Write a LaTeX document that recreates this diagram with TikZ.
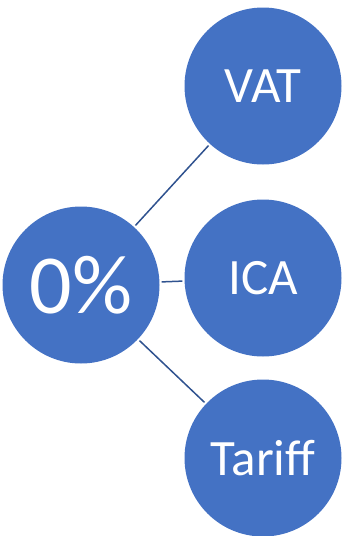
\documentclass[tikz,border=0pt]{standalone}
\usepackage{fontspec}
\setmainfont{Carlito}
\usepackage{tikz}

\definecolor{bubbleblue}{HTML}{4472C4}
\definecolor{linkblue}{HTML}{2F528F}

\begin{document}
\begin{tikzpicture}[x=1pt,y=-1pt,
	bubble/.style={circle,fill=bubbleblue,text=white,inner sep=0pt,minimum size=157pt,font=\fontsize{51}{51}\selectfont},
	link/.style={draw=linkblue,line width=1.5pt,shorten <=2pt,shorten >=2pt}]
	\useasboundingbox (0,0) rectangle (346,536);	%page size
	\node[bubble,font=\fontsize{84}{84}\selectfont] (rate) at (81,285) {0\%};	%central circle

	\node[bubble] (vat) at (263,86) {VAT};
	\node[bubble] (ica) at (263,278) {ICA};
	\node[bubble] (tariff) at (263,458) {Tariff};

	\foreach \t in {vat,ica,tariff}{
		\draw[link] (rate) -- (\t);	%centre--outer circles
	}
\end{tikzpicture}
\end{document}
